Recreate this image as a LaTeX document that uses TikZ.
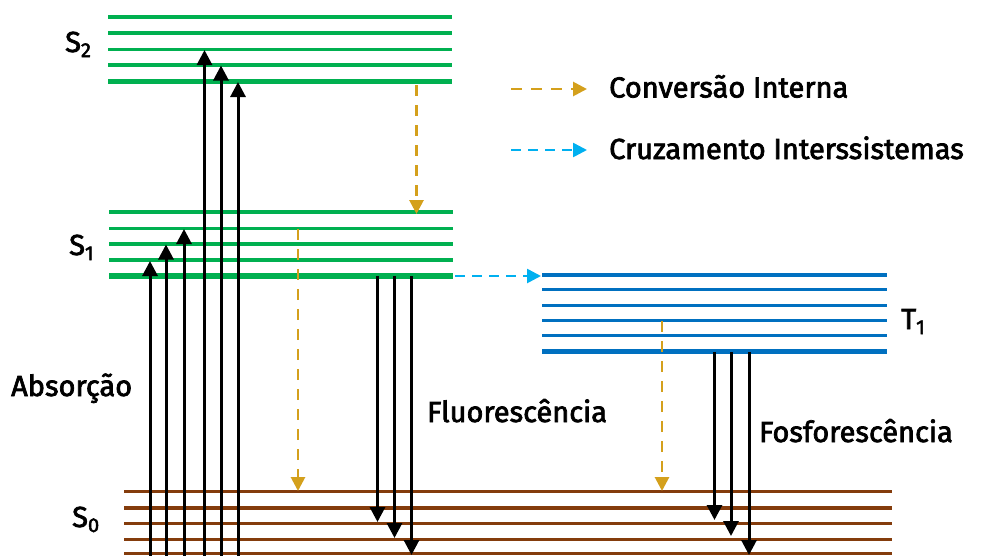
\documentclass[tikz,border=0pt]{standalone}
\usepackage{fontspec}
\setmainfont{Fira Sans}[FakeBold=2.5]
\usetikzlibrary{arrows.meta}
\definecolor{sgreen}{HTML}{00B050}
\definecolor{tblue}{HTML}{0070C0}
\definecolor{sbrown}{HTML}{843C0C}
\definecolor{icorange}{HTML}{D4A01C}
\definecolor{isccyan}{HTML}{00B0F0}
\newcommand{\subdig}[1]{\raisebox{-5pt}{\fontsize{20}{20}\selectfont #1}}
\tikzset{
  lvlthin/.style={line width=3.2pt},
  lvlthick/.style={line width=5.5pt},
  blk/.style={draw=black, line width=3pt, -{Triangle[length=15pt,width=15pt]}},
  icarrow/.style={draw=icorange, line width=2.8pt, dash pattern=on 11pt off 9pt, -{Triangle[length=14pt,width=14pt]}},
  iscarrow/.style={draw=isccyan, line width=2.6pt, dash pattern=on 10pt off 7pt, -{Triangle[length=14pt,width=14pt]}},
  lbl/.style={font=\fontsize{29}{32}\selectfont, inner sep=0pt, anchor=base west},
}
\begin{document}
\begin{tikzpicture}[x=1pt,y=-1pt]
\useasboundingbox (0,0) rectangle (983,555);
\path[clip] (0,0) rectangle (983,555);
% S2 levels
\foreach \yy in {17,33,49.5,65}{\draw[sgreen,lvlthin] (108,\yy) -- (452,\yy);}
\draw[sgreen,lvlthick] (108,81.5) -- (452,81.5);
% S1 levels
\foreach \yy in {212,228.5,244,260}{\draw[sgreen,lvlthin] (109,\yy) -- (453,\yy);}
\draw[sgreen,lvlthick] (109,276) -- (453,276);
% T1 levels
\foreach \yy in {275,289.5,305.5,320.5,335.5}{\draw[tblue,lvlthin] (542,\yy) -- (887,\yy);}
\draw[tblue,lvlthick] (542,351.5) -- (887,351.5);
% S0 levels
\foreach \yy in {491.5,508,523.5,539.5,553.5}{\draw[sbrown,lvlthin] (124,\yy) -- (892,\yy);}
% labels
\node[lbl] (S2) at (65,52) {S\subdig{2}};
\node[lbl] (S1) at (69,255) {S\subdig{1}};
\node[lbl] (S0) at (72,527) {S\subdig{0}};
\node[lbl] (T1) at (901,329) {T\subdig{1}};
\node[lbl] (abs) at (11,396) {Absorção};
\node[lbl] (flu) at (427,422) {Fluorescência};
\node[lbl] (fos) at (759,442) {Fosforescência};
% absorption
\foreach \n/\xx/\yt in {a1/150/261, a2/166/244.5, a3/184/229, a4/204.5/50, a5/221/65.5, a6/238/82}{
  \coordinate (\n s) at (\xx,565);
  \coordinate (\n e) at (\xx,\yt);
  \draw[blk] (\n s) -- (\n e);
}
% fluorescence
\foreach \n/\xx/\yt in {f1/377.5/522, f2/394.5/538, f3/411.5/555}{
  \coordinate (\n s) at (\xx,276);
  \coordinate (\n e) at (\xx,\yt);
  \draw[blk] (\n s) -- (\n e);
}
% phosphorescence
\foreach \n/\xx/\yt in {p1/714.5/520, p2/731/536, p3/749/555}{
  \coordinate (\n s) at (\xx,352);
  \coordinate (\n e) at (\xx,\yt);
  \draw[blk] (\n s) -- (\n e);
}
% internal conversion
\coordinate (ic1s) at (416.5,85); \coordinate (ic1e) at (416.5,214);
\coordinate (ic2s) at (298,229); \coordinate (ic2e) at (298,491);
\coordinate (ic3s) at (662,321); \coordinate (ic3e) at (662,491);
\draw[icarrow] (ic1s) -- (ic1e);
\draw[icarrow] (ic2s) -- (ic2e);
\draw[icarrow] (ic3s) -- (ic3e);
% intersystem crossing
\coordinate (iscs) at (455,276); \coordinate (isce) at (541,276);
\draw[iscarrow] (iscs) -- (isce);
% legend
\coordinate (l1s) at (511,89); \coordinate (l1e) at (587,89);
\coordinate (l2s) at (511,150); \coordinate (l2e) at (587,150);
\draw[icarrow] (l1s) -- (l1e);
\draw[iscarrow] (l2s) -- (l2e);
\node[lbl] (leg1) at (609,97.5) {Conversão Interna};
\node[lbl] (leg2) at (609,159) {Cruzamento Interssistemas};
\end{tikzpicture}
\end{document}
